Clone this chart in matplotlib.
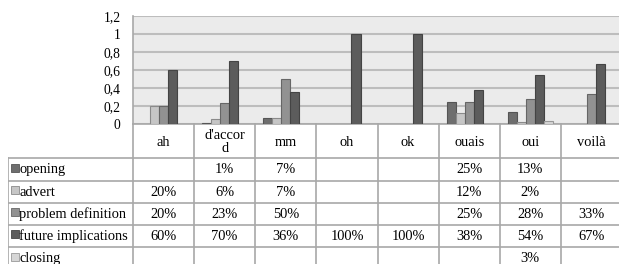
import matplotlib
matplotlib.use("Agg")
import matplotlib.pyplot as plt
import numpy as np

plt.rcParams['font.family'] = ['Liberation Serif', 'DejaVu Serif']

# data (fractions, None = no value)
categories = ["ah", "d'accor\nd", "mm", "oh", "ok", "ouais", "oui", "voilà"]
series_names = ["opening", "advert", "problem definition", "future implications", "closing"]
opening = [None, 0.01, 0.07, None, None, 0.25, 0.13, None]
advert = [0.20, 0.06, 0.07, None, None, 0.12, 0.02, None]
problem_definition = [0.20, 0.23, 0.50, None, None, 0.25, 0.28, 0.33]
future_implications = [0.60, 0.70, 0.36, 1.00, 1.00, 0.38, 0.54, 0.67]
closing = [None, None, None, None, None, None, 0.03, None]
y_ticks = [0, 0.2, 0.4, 0.6, 0.8, 1, 1.2]

series = [opening, advert, problem_definition, future_implications, closing]
colors = ["#6e6e6e", "#c6c6c6", "#929292", "#5c5c5c", "#d6d6d6"]
edges = ["#555555", "#8a8a8a", "#666666", "#444444", "#999999"]

W, H = 619, 264
fig = plt.figure(figsize=(W / 100, H / 100), dpi=100)

# chart area
ax = fig.add_axes([133 / W, 1 - 124 / H, (622 - 133) / W, (124 - 16) / H])
ax.set_facecolor("#ebebeb")
x = np.arange(len(categories))
bw = 0.148
for i, (vals, c, ec) in enumerate(zip(series, colors, edges)):
    v = np.array([np.nan if a is None else a for a in vals])
    ax.bar(x + (i - 2) * bw, v, bw, color=c, edgecolor=ec, linewidth=0.8, zorder=3)
ax.set_xlim(-0.5, 7.5)
ax.set_ylim(0, 1.2)
ax.set_yticks(y_ticks)
ax.set_yticklabels([f"{t:g}".replace(".", ",") for t in y_ticks], fontsize=9.8)
ax.tick_params(axis="y", length=0, pad=9)
ax.set_xticks([])
ax.yaxis.grid(True, color="#bdbdbd", linewidth=1.5, zorder=0)
for s in ["top", "right"]:
    ax.spines[s].set_visible(False)
ax.spines["left"].set_color("#a8a8a8")
ax.spines["bottom"].set_color("#a8a8a8")
ax.spines["left"].set_linewidth(1.2)
ax.spines["bottom"].set_linewidth(1.2)

# data table below
ppu = (622 - 133) / 8.0
x0 = -0.5 - (133 - 8) / ppu
tax = fig.add_axes([8 / W, 0, (622 - 8) / W, 1 - 124 / H])
tax.set_xlim(x0, 7.5)
tax.set_ylim(140, 0)
tax.axis("off")
row_edges = [34, 57, 79, 101, 123, 146]
lc = "#a8a8a8"
for xe in np.arange(-0.5, 8.0, 1.0):
    tax.plot([xe, xe], [0, 146], color=lc, lw=1.2, clip_on=False)
tax.plot([x0, x0], [row_edges[0], 146], color=lc, lw=1.2)
for ye in row_edges[:-1]:
    tax.plot([x0, 7.5], [ye, ye], color=lc, lw=1.2)

fs = 10.4
for i, cat in enumerate(categories):
    tax.text(i, 18, cat, ha="center", va="center", fontsize=fs, linespacing=1.0)

for r, (name, vals, c, ec) in enumerate(zip(series_names, series, colors, edges)):
    yc = (row_edges[r] + row_edges[r + 1]) / 2
    tax.plot(x0 + 7 / ppu, yc - 2, marker="s", ms=6, color=c, mec=ec, mew=0.6)
    tax.text(x0 + 11 / ppu, yc, name, ha="left", va="center", fontsize=fs)
    for i, v in enumerate(vals):
        if v is not None:
            tax.text(i, yc, f"{round(v * 100)}%", ha="center", va="center", fontsize=fs)

fig.savefig("out.png", dpi=100)
